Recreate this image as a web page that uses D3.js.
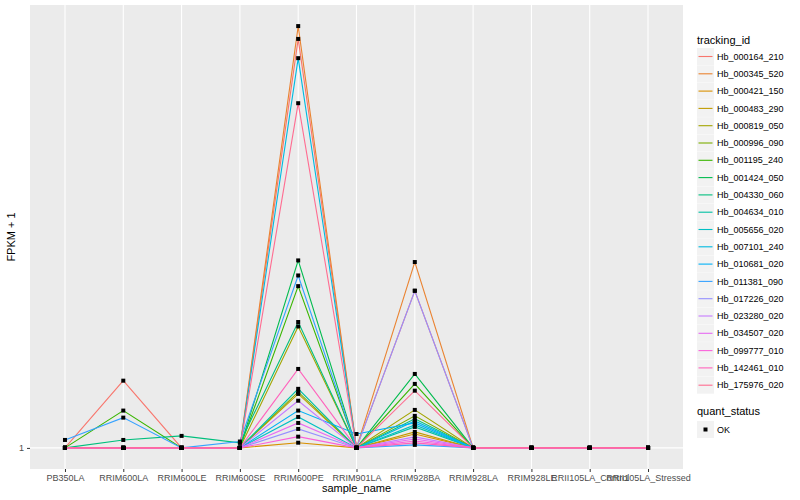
<!DOCTYPE html>
<html>
<head>
<meta charset="utf-8">
<script src="https://cdn.jsdelivr.net/npm/d3@7"></script>
<style>
  body { margin: 0; background: #fff; }
  text { font-family: "Liberation Sans", Arial, sans-serif; }
</style>
</head>
<body>
<div id="chart"></div>
<script>
const samples = ["PB350LA", "RRIM600LA", "RRIM600LE", "RRIM600SE", "RRIM600PE", "RRIM901LA",
  "RRIM928BA", "RRIM928LA", "RRIM928LE", "RRII105LA_Control", "RRII105LA_Stressed"];

const trackingIds = ["Hb_000164_210", "Hb_000345_520", "Hb_000421_150", "Hb_000483_290", "Hb_000819_050",
  "Hb_000996_090", "Hb_001195_240", "Hb_001424_050", "Hb_004330_060", "Hb_004634_010",
  "Hb_005656_020", "Hb_007101_240", "Hb_010681_020", "Hb_011381_090", "Hb_017226_020",
  "Hb_023280_020", "Hb_034507_020", "Hb_099777_010", "Hb_142461_010", "Hb_175976_020"];

// FPKM + 1, one row per tracking_id, one column per sample
const fpkm = [
  [1, 1.393, 1, 1, 7.51, 1, 2.17, 1, 1, 1, 1],
  [1, 1, 1, 1, 8.0, 1, 2.50, 1, 1, 1, 1],
  [1, 1, 1, 1, 1.026, 1, 1.071, 1, 1, 1, 1],
  [1, 1, 1, 1, 1.305, 1, 1.082, 1, 1, 1, 1],
  [1, 1, 1, 1, 1.82, 1, 1.206, 1, 1, 1, 1],
  [1, 1, 1, 1, 1.318, 1, 1.171, 1, 1, 1, 1],
  [1, 1.202, 1, 1, 2.22, 1, 1.371, 1, 1, 1, 1],
  [1, 1, 1, 1, 2.52, 1, 1.440, 1, 1, 1, 1],
  [1, 1.040, 1.061, 1.025, 1.86, 1, 1.154, 1, 1, 1, 1],
  [1, 1, 1, 1, 1.338, 1, 1.109, 1, 1, 1, 1],
  [1, 1, 1, 1, 1.165, 1, 1.120, 1, 1, 1, 1],
  [1, 1, 1, 1, 6.83, 1, 1.142, 1, 1, 1, 1],
  [1, 1, 1, 1, 1.202, 1.071, 1.131, 1, 1, 1, 1],
  [1.040, 1.161, 1, 1.032, 2.34, 1, 1.015, 1, 1, 1, 1],
  [1, 1, 1, 1, 1.098, 1, 2.17, 1, 1, 1, 1],
  [1, 1, 1, 1, 1.262, 1, 1.056, 1, 1, 1, 1],
  [1, 1, 1, 1, 1.131, 1, 1.045, 1, 1, 1, 1],
  [1, 1, 1, 1, 1.057, 1, 1.035, 1, 1, 1, 1],
  [1, 1, 1, 1, 1.476, 1, 1.025, 1, 1, 1, 1],
  [1, 1, 1, 1, 5.47, 1, 1.326, 1, 1, 1, 1]
];

const colors = ["#F8766D", "#EA8331", "#D89000", "#C09B00", "#A3A500", "#7CAE00", "#39B600", "#00BB4E",
  "#00BF7D", "#00C1A3", "#00BFC4", "#00BAE0", "#00B0F6", "#35A2FF", "#9590FF", "#C77CFF",
  "#E76BF3", "#FA62DB", "#FF62BC", "#FF6C91"];

const yTicks = [1];
const quantStatus = ["OK"];

const width = 800, height = 500;
const panel = { left: 30, right: 683, top: 5, bottom: 469 };

const svg = d3.select("#chart").append("svg")
  .attr("width", width)
  .attr("height", height);

// x: discrete samples
const x = d3.scalePoint()
  .domain(samples)
  .range([panel.left, panel.right])
  .padding(0.6);

// y: log10 with 5% expansion like ggplot
const allVals = fpkm.flat();
const lo = Math.log10(d3.min(allVals)), hi = Math.log10(d3.max(allVals));
const pad = (hi - lo) * 0.05;
const y = d3.scaleLog()
  .domain([Math.pow(10, lo - pad), Math.pow(10, hi + pad)])
  .range([panel.bottom, panel.top]);

svg.append("rect")
  .attr("x", panel.left).attr("y", panel.top)
  .attr("width", panel.right - panel.left)
  .attr("height", panel.bottom - panel.top)
  .attr("fill", "#EBEBEB");

// grid
svg.selectAll(".vgrid").data(samples).enter().append("line")
  .attr("x1", d => x(d)).attr("x2", d => x(d))
  .attr("y1", panel.top).attr("y2", panel.bottom)
  .attr("stroke", "#fff").attr("stroke-width", 1.1);

svg.selectAll(".hgrid").data(yTicks).enter().append("line")
  .attr("x1", panel.left).attr("x2", panel.right)
  .attr("y1", d => y(d)).attr("y2", d => y(d))
  .attr("stroke", "#fff").attr("stroke-width", 1.1);

// lines
const line = d3.line()
  .x((d, i) => x(samples[i]))
  .y(d => y(d));

svg.selectAll(".series").data(fpkm).enter().append("path")
  .attr("d", line)
  .attr("fill", "none")
  .attr("stroke", (d, i) => colors[i])
  .attr("stroke-width", 1.1);

// points
fpkm.forEach(row => {
  svg.append("g").selectAll("rect").data(row).enter().append("rect")
    .attr("x", (d, i) => x(samples[i]) - 2)
    .attr("y", d => y(d) - 2)
    .attr("width", 4).attr("height", 4)
    .attr("fill", "#000");
});

// axes
const xAxis = svg.append("g")
  .attr("transform", `translate(0,${panel.bottom})`)
  .call(d3.axisBottom(x).tickSize(3).tickPadding(3));
const yAxis = svg.append("g")
  .attr("transform", `translate(${panel.left},0)`)
  .call(d3.axisLeft(y).tickValues(yTicks).tickFormat(d3.format("d")).tickSize(3).tickPadding(3));

[xAxis, yAxis].forEach(g => {
  g.select(".domain").remove();
  g.selectAll(".tick line").attr("stroke", "#333");
  g.selectAll(".tick text").attr("fill", "#4D4D4D").style("font-size", "9px");
});

svg.append("text")
  .attr("x", (panel.left + panel.right) / 2).attr("y", 492)
  .attr("text-anchor", "middle")
  .style("font-size", "11px")
  .text("sample_name");

svg.append("text")
  .attr("transform", `translate(15,${(panel.top + panel.bottom) / 2}) rotate(-90)`)
  .attr("text-anchor", "middle")
  .style("font-size", "11px")
  .text("FPKM + 1");

// legend: tracking_id
const lg = svg.append("g").attr("transform", "translate(697,0)");
lg.append("text").attr("x", 0).attr("y", 44).style("font-size", "11px").text("tracking_id");

const step = 17.3;
const keys = lg.selectAll(".key").data(trackingIds).enter().append("g")
  .attr("transform", (d, i) => `translate(0,${48 + i * step})`);
keys.append("rect").attr("width", 17).attr("height", 17).attr("fill", "#F2F2F2");
keys.append("line")
  .attr("x1", 1.5).attr("x2", 15.5).attr("y1", 8.5).attr("y2", 8.5)
  .attr("stroke", (d, i) => colors[i]).attr("stroke-width", 1.1);
keys.append("text")
  .attr("x", 20).attr("y", 8.5).attr("dy", "0.35em")
  .style("font-size", "9px")
  .text(d => d);

// legend: quant_status
lg.append("text").attr("x", 0).attr("y", 415).style("font-size", "11px").text("quant_status");
const qk = lg.selectAll(".qkey").data(quantStatus).enter().append("g")
  .attr("transform", "translate(0,421)");
qk.append("rect").attr("width", 17).attr("height", 17).attr("fill", "#F2F2F2");
qk.append("rect").attr("x", 6.5).attr("y", 6.5).attr("width", 4).attr("height", 4).attr("fill", "#000");
qk.append("text").attr("x", 20).attr("y", 8.5).attr("dy", "0.35em").style("font-size", "9px").text(d => d);
</script>
</body>
</html>
